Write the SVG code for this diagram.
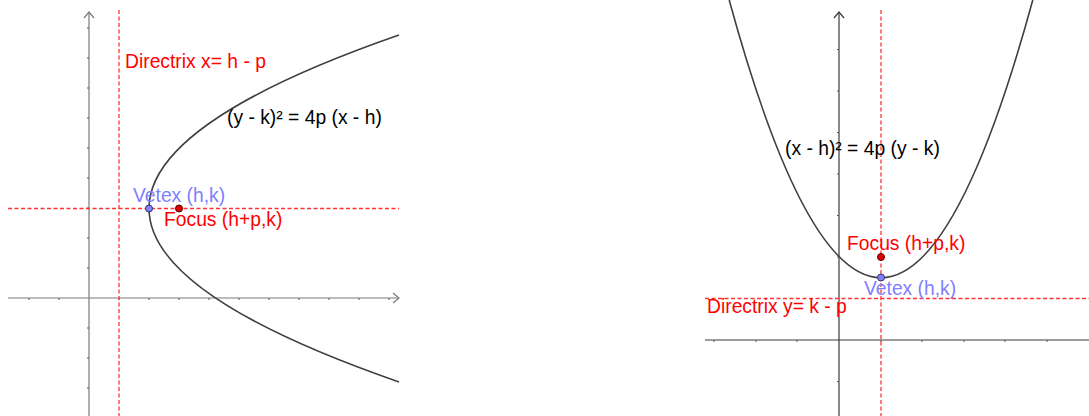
<svg xmlns="http://www.w3.org/2000/svg" width="1089" height="416" viewBox="0 0 1089 416">
<defs>
<style>
.axL{stroke:#7a7a7a;stroke-width:1.2;fill:none}
.axR{stroke:#3a3a3a;stroke-width:1.2;fill:none}
.tick{stroke:#555;stroke-width:1}
.dash{stroke:#ff3333;stroke-width:1.3;stroke-dasharray:4 2.5;fill:none}
.curve{stroke:#3f3f3f;stroke-width:1.6;fill:none}
text{font-family:"Liberation Sans",Arial,sans-serif;font-size:19.3px}
.red{fill:#ff0000}
.blue{fill:#7f7fff}
.blk{fill:#000}
</style>
</defs>
<rect width="1089" height="416" fill="#fff"/>
<g id="left-plot">
<g id="left-axes">
<line class="axL" x1="89" y1="12" x2="89" y2="416"/>
<polyline class="axL" points="84,18 89,12 94,18"/>
<line class="axL" x1="8" y1="298" x2="399" y2="298"/>
<polyline class="axL" points="393,293 399,298 393,303"/>
<path class="tick" d="M29,298v2M59,298v2M119,298v2M149,298v2M179,298v2M209,298v2M239,298v2M269,298v2M299,298v2M329,298v2M359,298v2M389,298v2"/>
<path class="tick" d="M87,28h2M87,58h2M87,88h2M87,118h2M87,148h2M87,178h2M87,208h2M87,238h2M87,268h2M87,328h2M87,358h2M87,388h2"/>
</g>
<g id="left-guides">
<line class="dash" x1="119" y1="10" x2="119" y2="416"/>
<line class="dash" x1="8" y1="208.5" x2="399" y2="208.5"/>
</g>
<path id="left-parabola" class="curve" d="M399,35 Q-101,208.5 399,382"/>
<g id="left-labels">
<text class="red" x="125" y="68">Directrix x= h - p</text>
<text class="blk" x="227" y="124">(y - k)² = 4p (x - h)</text>
<text class="blue" x="133" y="202">Vetex (h,k)</text>
<text class="red" x="164" y="226">Focus (h+p,k)</text>
</g>
<circle id="left-vertex" cx="149" cy="208.5" r="3.5" fill="#7f7fff" stroke="#333366" stroke-width="1"/>
<circle id="left-focus" cx="179" cy="208.5" r="3.5" fill="#dd0000" stroke="#550000" stroke-width="1"/>
</g>
<g id="right-plot">
<g id="right-axes">
<line class="axR" x1="839" y1="12" x2="839" y2="416"/>
<polyline class="axR" points="834,18 839,12 844,18"/>
<line class="axR" x1="705" y1="340" x2="1089" y2="340"/>
<path class="tick" d="M714,340v2M756,340v2M797,340v2M881,340v2M922,340v2M964,340v2M1005,340v2M1047,340v2"/>
<path class="tick" d="M837,49.5h2M837,91h2M837,132.5h2M837,174h2M837,215.5h2M837,257h2M837,298.5h2M837,381.5h2"/>
</g>
<g id="right-guides">
<line class="dash" x1="881" y1="10" x2="881" y2="416"/>
<line class="dash" x1="705" y1="298.5" x2="1089" y2="298.5"/>
</g>
<path id="right-parabola" class="curve" d="M729.2,0 Q881,555.5 1032.8,0"/>
<g id="right-labels">
<text class="blk" x="785" y="155">(x - h)² = 4p (y - k)</text>
<text class="red" x="847" y="250">Focus (h+p,k)</text>
<text class="blue" x="864" y="295">Vetex (h,k)</text>
<text class="red" x="707" y="313">Directrix y= k - p</text>
</g>
<circle id="right-vertex" cx="881" cy="277.5" r="3.5" fill="#7f7fff" stroke="#333366" stroke-width="1"/>
<circle id="right-focus" cx="881" cy="257" r="3.5" fill="#dd0000" stroke="#550000" stroke-width="1"/>
</g>
</svg>
